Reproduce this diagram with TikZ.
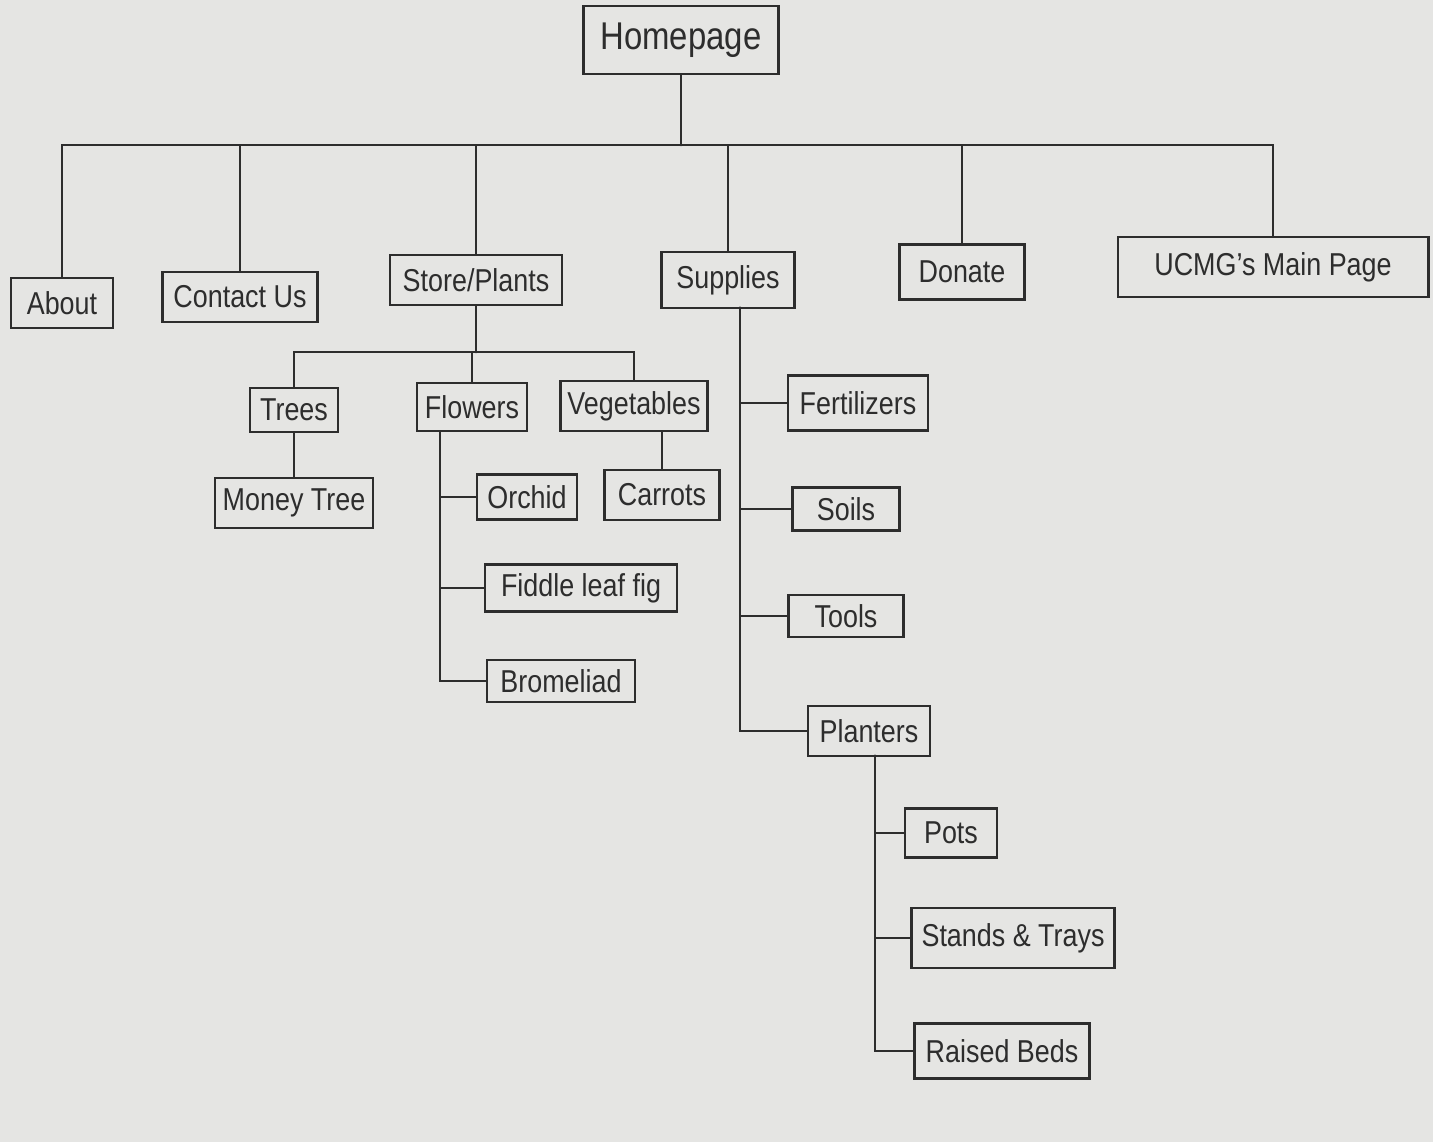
\documentclass[tikz,border=0pt]{standalone}
\usepackage{fontspec}
\setmainfont{Liberation Sans}[FakeStretch=0.85]
\definecolor{paper}{RGB}{229,229,227}
\definecolor{ink}{RGB}{45,45,45}
\begin{document}
\begin{tikzpicture}[x=0.01cm,y=-0.01cm,
	page/.style={draw=ink, line width=0.8pt, inner sep=2pt, text=ink, font=\fontsize{9}{11}\selectfont},
	link/.style={draw=ink, line width=0.8pt, line cap=round}]
	\useasboundingbox[fill=paper] (0,0) rectangle (1433,1142);
	% top level
	\node[page, minimum width=1.95cm, minimum height=0.68cm, font=\fontsize{11}{13}\selectfont] (home) at (681,40) {Homepage};
	\node[page, minimum width=1.02cm, minimum height=0.5cm] (about) at (62,303) {About};
	\node[page, minimum width=1.55cm, minimum height=0.5cm] (contact) at (240,297) {Contact Us};
	\node[page, minimum width=1.72cm, minimum height=0.5cm] (store) at (476,280) {Store/Plants};
	\node[page, minimum width=1.33cm, minimum height=0.56cm] (supplies) at (728,280) {Supplies};
	\node[page, minimum width=1.25cm, minimum height=0.55cm] (donate) at (962,272) {Donate};
	\node[page, minimum width=3.1cm, minimum height=0.6cm] (ucmg) at (1273,267) {UCMG's Main Page};
	% store / plants
	\node[page, minimum width=0.88cm, minimum height=0.44cm] (trees) at (294,410) {Trees};
	\node[page, minimum width=1.1cm, minimum height=0.48cm] (flowers) at (472,407) {Flowers};
	\node[page, minimum width=1.22cm, minimum height=0.5cm] (veg) at (634,406) {Vegetables};
	\node[page, minimum width=1.58cm, minimum height=0.5cm] (money) at (294,503) {Money Tree};
	\node[page, minimum width=1.0cm, minimum height=0.45cm] (orchid) at (527,497) {Orchid};
	\node[page, minimum width=1.92cm, minimum height=0.47cm] (fig) at (581,588) {Fiddle leaf fig};
	\node[page, minimum width=1.48cm, minimum height=0.42cm] (brom) at (561,681) {Bromeliad};
	\node[page, minimum width=1.15cm, minimum height=0.5cm] (carrots) at (662,495) {Carrots};
	% supplies
	\node[page, minimum width=1.4cm, minimum height=0.55cm] (fert) at (858,403) {Fertilizers};
	\node[page, minimum width=1.07cm, minimum height=0.43cm] (soils) at (846,509) {Soils};
	\node[page, minimum width=1.15cm, minimum height=0.42cm] (tools) at (846,616) {Tools};
	\node[page, minimum width=1.22cm, minimum height=0.5cm] (planters) at (869,731) {Planters};
	\node[page, minimum width=0.92cm, minimum height=0.49cm] (pots) at (951,833) {Pots};
	\node[page, minimum width=2.03cm, minimum height=0.6cm] (stands) at (1013,938) {Stands \& Trays};
	\node[page, minimum width=1.75cm, minimum height=0.55cm] (beds) at (1002,1051) {Raised Beds};
	% connectors
	\coordinate (top) at (681,145);
	\coordinate (sbar) at (476,352);
	\coordinate (fspine) at (440,432);
	\coordinate (uspine) at (740,308);
	\coordinate (pspine) at (875,756);
	\draw[link] (home) -- (top);
	\foreach \n in {about,contact,store,supplies,donate,ucmg}
		\draw[link] (\n.north) |- (top);
	\draw[link] (store) -- (sbar);
	\foreach \n in {trees,flowers,veg}
		\draw[link] (\n.north) |- (sbar);
	\draw[link] (trees) -- (money);
	\draw[link] (carrots.north) -- (carrots.north |- veg.south);
	\foreach \n in {orchid,fig,brom}
		\draw[link] (fspine) |- (\n.west);
	\foreach \n in {fert,soils,tools,planters}
		\draw[link] (uspine) |- (\n.west);
	\foreach \n in {pots,stands,beds}
		\draw[link] (pspine) |- (\n.west);
\end{tikzpicture}
\end{document}
